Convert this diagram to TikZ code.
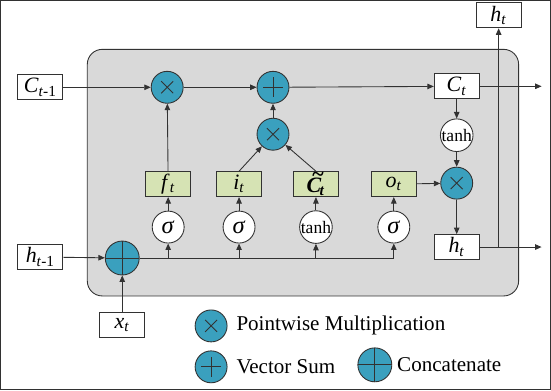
\documentclass[tikz,border=0pt]{standalone}
\usepackage{fontspec}
\setmainfont{Liberation Serif}
\usetikzlibrary{arrows.meta,calc}

\definecolor{cellgray}{RGB}{217,217,217}
\definecolor{opteal}{RGB}{58,160,190}
\definecolor{gategreen}{RGB}{214,227,180}
\definecolor{edgegray}{RGB}{50,50,50}

\newcommand{\sbt}[1]{\textsubscript{#1}}
% italic C with a tilde set above it
\newcommand{\tildeC}{\textit{\rlap{C}\hspace{0.22em}\raisebox{0.52em}{\char"007E}\hspace{-0.2em}}}

\begin{document}
\begin{tikzpicture}[x=0.02cm, y=-0.02cm,
  >={Triangle[length=1.3mm,width=1.1mm]},
  every path/.style={line width=0.5pt, draw=edgegray},
  statebox/.style={draw=edgegray, fill=white, minimum width=0.9cm, minimum height=0.5cm, inner sep=0pt, font=\fontsize{12.5}{12.5}\selectfont},
  gatebox/.style={statebox, fill=gategreen},
  actnode/.style={circle, draw=edgegray, fill=white, minimum size=0.64cm, inner sep=0pt},
  opnode/.style={circle, draw=edgegray, fill=opteal, minimum size=0.64cm, inner sep=0pt},
  multop/.style={opnode, path picture={
     \draw[edgegray] ($(path picture bounding box.center)+(-6,-6)$) -- ($(path picture bounding box.center)+(6,6)$);
     \draw[edgegray] ($(path picture bounding box.center)+(-6,6)$) -- ($(path picture bounding box.center)+(6,-6)$);}},
  sumop/.style={opnode, path picture={
     \draw[edgegray] ($(path picture bounding box.center)+(-10,0)$) -- ($(path picture bounding box.center)+(10,0)$);
     \draw[edgegray] ($(path picture bounding box.center)+(0,-10)$) -- ($(path picture bounding box.center)+(0,10)$);}},
  catop/.style={opnode, minimum size=0.68cm, path picture={
     \draw[edgegray] (path picture bounding box.west) -- (path picture bounding box.east);
     \draw[edgegray] (path picture bounding box.north) -- (path picture bounding box.south);}},
  legendtext/.style={anchor=west, inner sep=0pt, font=\fontsize{12}{12}\selectfont}
]
% canvas
\fill[white] (0,0) rectangle (551,390);
\useasboundingbox (0,0) rectangle (551,390);

% cell body
\draw[fill=cellgray, rounded corners=0.3cm] (87,49) rectangle (519,296);

% states
\node[statebox] (cprev) at (40,87) {\textit{C}\sbt{\textit{t}-1}};
\node[statebox] (hprev) at (40,257) {\textit{h}\sbt{\textit{t}-1}};
\node[statebox] (xt) at (122,325) {\textit{x}\sbt{\textit{t}}};
\node[statebox] (ct) at (457,86) {\textit{C}\sbt{\textit{t}}};
\node[statebox] (ht) at (457,247) {\textit{h}\sbt{\textit{t}}};
\node[statebox] (htop) at (499,15) {\textit{h}\sbt{\textit{t}}};

% pointwise operators
\node[multop] (mf) at (167,87) {};
\node[sumop] (add) at (273,87) {};
\node[multop] (mi) at (273,134) {};
\node[actnode, font=\fontsize{10}{10}\selectfont] (tanhc) at (457,135) {tanh};
\node[multop] (mo) at (457,183) {};
\node[catop] (cat) at (122,258) {};

% gates
\node[gatebox] (ft) at (168,184) {\textit{f}\sbt{\textit{t}}};
\node[gatebox] (it) at (239,184) {\textit{i}\sbt{\textit{t}}};
\node[gatebox] (cand) at (316,184) {\bfseries\tildeC\sbt{\textit{t}}};
\node[gatebox] (ot) at (394,184) {\textit{o}\sbt{\textit{t}}};

% activations
\node[actnode, font=\fontsize{14}{14}\selectfont] (sf) at (168,227) {\textit{σ}};
\node[actnode, font=\fontsize{14}{14}\selectfont] (si) at (239,227) {\textit{σ}};
\node[actnode, font=\fontsize{10}{10}\selectfont] (sc) at (316,227) {tanh};
\node[actnode, font=\fontsize{14}{14}\selectfont] (so) at (394,227) {\textit{σ}};

% free ends
\coordinate (cout) at (542,86);
\coordinate (hout) at (542,247);
\coordinate (hsplit) at (499,247);

% cell state path
\draw[->] (cprev) -- (mf);
\draw[->] (mf) -- (add);
\draw[->] (add) -- (ct);
\draw[->] (ct) -- (cout);
\draw[->] (ct) -- (tanhc);
\draw[->] (tanhc) -- (mo);
\draw[->] (mo) -- (ht);
\draw[->] (ht) -- (hout);
\draw[->] (hsplit) -- (htop);

% gate connections
\draw[->] (ft) -- (mf);
\draw[->] (it.north) -- (mi);
\draw[->] (cand.north) -- (mi);
\draw[->] (mi) -- (add);
\draw[->] (ot) -- (mo);
\foreach \a/\g in {sf/ft, si/it, sc/cand, so/ot}
  \draw[->] (\a) -- (\g);

% input concatenation and bus
\draw[->] (hprev) -- (cat);
\draw[->] (xt) -- (cat);
\draw (cat.east) -- (so |- cat);
\foreach \a in {sf, si, sc, so}
  \draw[->] (\a |- cat) -- (\a);

% legend
\node[multop] (lgm) at (211,326) {};
\node[legendtext] (lgmt) at (236,326) {Pointwise Multiplication};
\node[sumop] (lgs) at (211,367) {};
\node[legendtext] (lgst) at (236,367) {Vector Sum};
\node[catop] (lgc) at (375,365) {};
\node[legendtext] (lgct) at (397,365) {Concatenate};
\end{tikzpicture}
\end{document}
